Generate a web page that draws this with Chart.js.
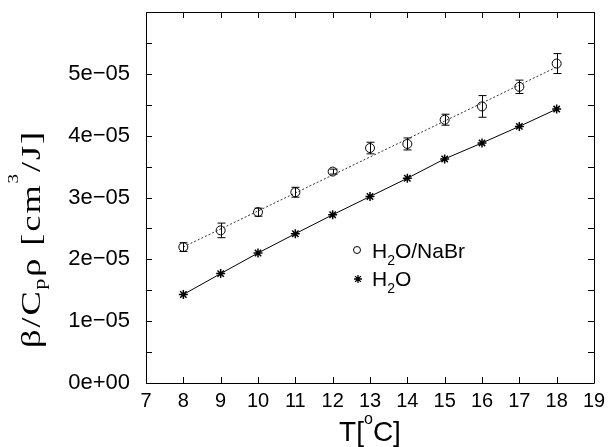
<!DOCTYPE html>
<html>
<head>
<meta charset="utf-8">
<script src="https://cdn.jsdelivr.net/npm/chart.js@4"></script>
<style>
  html, body { margin: 0; padding: 0; background: #fff; }
  #wrap { width: 608px; height: 447px; }
</style>
</head>
<body>
<div id="wrap"><canvas id="c" width="608" height="447"></canvas></div>
<script>
// Temperatures in degrees Celsius
const temperatures = [8, 9, 10, 11, 12, 13, 14, 15, 16, 17, 18];
// beta / (Cp rho) for the NaBr solution, with its uncertainty
const nabrValues = [2.198e-5, 2.468e-5, 2.763e-5, 3.085e-5, 3.419e-5, 3.800e-5, 3.866e-5, 4.258e-5, 4.473e-5, 4.790e-5, 5.166e-5];
const nabrErrors = [0.070e-5, 0.118e-5, 0.065e-5, 0.080e-5, 0.040e-5, 0.094e-5, 0.097e-5, 0.089e-5, 0.175e-5, 0.108e-5, 0.161e-5];
// beta / (Cp rho) for pure water
const waterValues = [1.431e-5, 1.769e-5, 2.102e-5, 2.414e-5, 2.721e-5, 3.016e-5, 3.311e-5, 3.624e-5, 3.882e-5, 4.150e-5, 4.430e-5];
// straight-line fit through the NaBr data (end points)
const nabrFitT = [8, 18];
const nabrFitValues = [2.20e-5, 5.11e-5];
// axis ticks
const xTickValues = [7, 8, 9, 10, 11, 12, 13, 14, 15, 16, 17, 18, 19];
const yLabelValues = [0, 1e-5, 2e-5, 3e-5, 4e-5, 5e-5];
const yMinorStep = 0.5e-5;

const SANS = '"Liberation Sans", Arial, Helvetica, sans-serif';
const SERIF = '"Liberation Serif", "Times New Roman", serif';

function fmtExp(v) {
  if (Math.abs(v) < 1e-30) return '0e+00';
  const e = Math.floor(Math.log10(Math.abs(v)) + 1e-9);
  const m = Math.round(v / Math.pow(10, e));
  return m + 'e' + (e < 0 ? '\u2212' : '+') + String(Math.abs(e)).padStart(2, '0');
}

// text runs: [text, fontSize, baselineShift]; optional extra spacing per character
function runsWidth(ctx, runs, family, ls) {
  let w = 0;
  for (const r of runs) {
    ctx.font = r[1] + 'px ' + family;
    for (const ch of r[0]) w += ctx.measureText(ch).width + (ls || 0);
  }
  return w;
}
function drawRuns(ctx, runs, family, x, y, ls) {
  for (const r of runs) {
    ctx.font = r[1] + 'px ' + family;
    if (!ls) {
      ctx.fillText(r[0], x, y + r[2]);
      x += ctx.measureText(r[0]).width;
    } else {
      for (const ch of r[0]) {
        ctx.fillText(ch, x, y + r[2]);
        x += ctx.measureText(ch).width + ls;
      }
    }
  }
  return x;
}
function charCount(runs) { return runs.reduce((n, r) => n + [...r[0]].length, 0); }

const framePlugin = {
  id: 'frame',
  afterDatasetsDraw(chart) {
    const { ctx, chartArea: a, scales } = chart;
    const xs = scales.x, ys = scales.y;
    ctx.save();
    ctx.strokeStyle = '#000';
    ctx.lineWidth = 1;
    // error bars on the NaBr points
    const cap = 4;
    ctx.beginPath();
    temperatures.forEach((t, i) => {
      const px = Math.round(xs.getPixelForValue(t)) + 0.5;
      const y1 = ys.getPixelForValue(nabrValues[i] - nabrErrors[i]);
      const y2 = ys.getPixelForValue(nabrValues[i] + nabrErrors[i]);
      ctx.moveTo(px, y1); ctx.lineTo(px, y2);
      ctx.moveTo(px - cap, y1); ctx.lineTo(px + cap, y1);
      ctx.moveTo(px - cap, y2); ctx.lineTo(px + cap, y2);
    });
    ctx.stroke();

    // frame and inward ticks on all four sides
    ctx.beginPath();
    ctx.rect(a.left + 0.5, a.top + 0.5, a.right - a.left, a.bottom - a.top);
    const tl = 6;
    for (const v of xTickValues) {
      const px = Math.round(xs.getPixelForValue(v)) + 0.5;
      ctx.moveTo(px, a.bottom); ctx.lineTo(px, a.bottom - tl);
      ctx.moveTo(px, a.top); ctx.lineTo(px, a.top + tl);
    }
    for (let v = ys.min; v <= ys.max + 1e-12; v += yMinorStep) {
      const py = Math.round(ys.getPixelForValue(v)) + 0.5;
      ctx.moveTo(a.left, py); ctx.lineTo(a.left + tl, py);
      ctx.moveTo(a.right, py); ctx.lineTo(a.right - tl, py);
    }
    ctx.stroke();

    // key
    ctx.fillStyle = '#000';
    ctx.textBaseline = 'alphabetic';
    ctx.textAlign = 'left';
    ctx.beginPath();
    ctx.arc(357, 250, 3.5, 0, Math.PI * 2);
    ctx.stroke();
    const sx = 358, sy = 279, r = 4;
    ctx.lineWidth = 1.3;
    ctx.beginPath();
    ctx.moveTo(sx - r, sy); ctx.lineTo(sx + r, sy);
    ctx.moveTo(sx, sy - r); ctx.lineTo(sx, sy + r);
    const d = r * 0.72;
    ctx.moveTo(sx - d, sy - d); ctx.lineTo(sx + d, sy + d);
    ctx.moveTo(sx - d, sy + d); ctx.lineTo(sx + d, sy - d);
    ctx.stroke();
    ctx.lineWidth = 1;
    drawRuns(ctx, [['H', 21, 0], ['2', 14, 7], ['O/NaBr', 21, 0]], SANS, 372, 257.5);
    drawRuns(ctx, [['H', 21, 0], ['2', 14, 7], ['O', 21, 0]], SANS, 372, 285.5);

    // x axis title
    const xr = [['T[', 28, 0], ['o', 16, -17], ['C]', 28, 0]];
    const xw = runsWidth(ctx, xr, SANS);
    drawRuns(ctx, xr, SANS, (a.left + a.right) / 2 - xw / 2, 441);

    // y axis title, rotated and widened along its length
    const yr = [['\u03B2/C', 27, 0], ['p', 16, 5], ['\u03C1 [cm', 27, 0], ['3', 14, -22], ['/J]', 27, 0]];
    const stretch = 1.35, span = 218;
    const natural = runsWidth(ctx, yr, SERIF);
    const ls = Math.max(0, (span / stretch - natural) / charCount(yr));
    const yw = runsWidth(ctx, yr, SERIF, ls);
    ctx.translate(40, 239);
    ctx.rotate(-Math.PI / 2);
    ctx.scale(stretch, 1);
    drawRuns(ctx, yr, SERIF, -yw / 2, 0, ls);
    ctx.restore();
  }
};

const zeroPad = s => { s.paddingTop = 0; s.paddingBottom = 0; s.paddingLeft = 0; s.paddingRight = 0; };

new Chart(document.getElementById('c'), {
  type: 'scatter',
  data: {
    datasets: [
      {
        label: 'H2O/NaBr fit',
        data: nabrFitT.map((t, i) => ({ x: t, y: nabrFitValues[i] })),
        showLine: true,
        borderColor: '#333',
        borderWidth: 1,
        borderDash: [2, 2],
        pointRadius: 0
      },
      {
        label: 'H2O',
        data: temperatures.map((t, i) => ({ x: t, y: waterValues[i] })),
        showLine: true,
        borderColor: '#000',
        borderWidth: 1,
        pointStyle: 'star',
        pointRadius: 4.5,
        pointBorderColor: '#000',
        pointBackgroundColor: '#000',
        pointBorderWidth: 1.5
      },
      {
        label: 'H2O/NaBr',
        data: temperatures.map((t, i) => ({ x: t, y: nabrValues[i] })),
        showLine: false,
        pointStyle: 'circle',
        pointRadius: 4.5,
        pointBorderColor: '#000',
        pointBackgroundColor: 'rgba(0,0,0,0)',
        pointBorderWidth: 1
      }
    ]
  },
  options: {
    responsive: false,
    animation: false,
    layout: { padding: { top: 12, right: 14, left: 0, bottom: 0 } },
    plugins: { legend: { display: false }, tooltip: { enabled: false } },
    scales: {
      x: {
        type: 'linear',
        min: 7, max: 19,
        grid: { display: false, drawTicks: false },
        border: { display: false },
        afterFit(s) { s.height = 64; zeroPad(s); },
        afterBuildTicks(s) { s.ticks = xTickValues.map(v => ({ value: v })); },
        ticks: { padding: 6, color: '#000', font: { family: SANS, size: 20 }, maxRotation: 0, autoSkip: false, callback: v => String(v) }
      },
      y: {
        type: 'linear',
        min: 0, max: 6e-5,
        grid: { display: false, drawTicks: false },
        border: { display: false },
        afterFit(s) { s.width = 146; zeroPad(s); },
        afterBuildTicks(s) { s.ticks = yLabelValues.map(v => ({ value: v })); },
        ticks: { padding: 16, color: '#000', font: { family: SANS, size: 22 }, autoSkip: false, callback: v => fmtExp(v) }
      }
    }
  },
  plugins: [framePlugin]
});
</script>
</body>
</html>
